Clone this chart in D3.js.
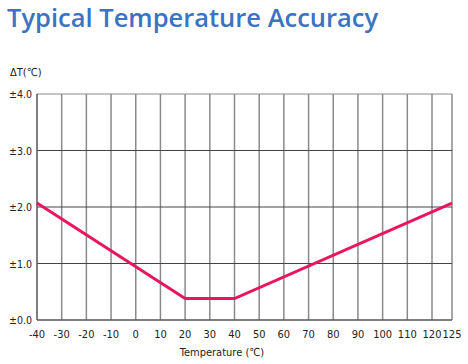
<!DOCTYPE html>
<html>
<head>
<meta charset="utf-8">
<script src="https://cdn.jsdelivr.net/npm/d3@7"></script>
<style>
body { margin:0; background:#fff; }
</style>
</head>
<body>
<svg id="svg1" width="468" height="364"></svg>
<script>
var temps = [-40, 20, 40, 125];
var accuracy = [2.07, 0.38, 0.38, 2.07];
var xTicks = [-40,-30,-20,-10,0,10,20,30,40,50,60,70,80,90,100,110,120,125];
var yTicks = [0, 1, 2, 3, 4];
var yLabels = ["±0.0","±1.0","±2.0","±3.0","±4.0"];

var svg = d3.select('#svg1');

// 125 sits closer to 120 than the rest in the original picture
var x = d3.scaleLinear().domain([-40,120,125]).range([37,432,452]);
var y = d3.scaleLinear().domain([0,4]).range([320,94]);

svg.append("text")
    .text("Typical Temperature Accuracy")
    .attr("x",7).attr("y",27)
    .style("font-family","'Open Sans', sans-serif")
    .style("font-size","25.5px")
    .style("font-weight","600")
    .style("fill","#3b73c2");

var g = svg.append("g");

g.selectAll("line.vgrid")
    .data(xTicks.slice(1))
    .enter()
    .append("line")
    .attr("class","vgrid")
    .attr("x1",function(d){return x(d);})
    .attr("x2",function(d){return x(d);})
    .attr("y1",y(4)).attr("y2",y(0))
    .style("stroke","#8a8a8a")
    .style("stroke-width","1.5px");

g.selectAll("line.hgrid")
    .data(yTicks.slice(1))
    .enter()
    .append("line")
    .attr("class","hgrid")
    .attr("x1",x(-40)).attr("x2",x(125))
    .attr("y1",function(d){return y(d);})
    .attr("y2",function(d){return y(d);})
    .style("stroke",function(d){return d == 4 ? "#8a8a8a" : "#444";})
    .style("stroke-width","1px");

// axes
g.append("line")
    .attr("x1",x(-40)).attr("x2",x(-40))
    .attr("y1",y(4)).attr("y2",y(0))
    .style("stroke","#555").style("stroke-width","1.5px");
g.append("line")
    .attr("x1",x(-40)).attr("x2",x(125))
    .attr("y1",y(0)).attr("y2",y(0))
    .style("stroke","#555").style("stroke-width","1.5px");

var line = d3.line()
    .x(function(d,i){return x(temps[i]);})
    .y(function(d){return y(d);});

g.append("path")
    .attr("d",line(accuracy))
    .style("fill","none")
    .style("stroke","#e8175d")
    .style("stroke-width","3px")
    .style("stroke-linejoin","miter");

var labelFont = "'Liberation Sans Narrow', 'DejaVu Sans Condensed', sans-serif";

g.selectAll("text.xt")
    .data(xTicks)
    .enter()
    .append("text")
    .attr("class","xt")
    .text(function(d){return d;})
    .attr("x",function(d){return x(d);})
    .attr("y",338)
    .style("text-anchor","middle")
    .style("font-family",labelFont)
    .style("font-size","11px")
    .style("fill","#222");

g.selectAll("text.yt")
    .data(yTicks)
    .enter()
    .append("text")
    .attr("class","yt")
    .text(function(d,i){return yLabels[i];})
    .attr("x",32)
    .attr("y",function(d){return y(d) + 4;})
    .style("text-anchor","end")
    .style("font-family",labelFont)
    .style("font-size","10.5px")
    .style("fill","#222");

g.append("text")
    .text("ΔT(℃)")
    .attr("x",10).attr("y",76)
    .style("font-family",labelFont)
    .style("font-size","11px")
    .style("fill","#222");

g.append("text")
    .text("Temperature (℃)")
    .attr("x",222).attr("y",356)
    .style("text-anchor","middle")
    .style("font-family",labelFont)
    .style("font-size","11px")
    .style("fill","#222");
</script>
</body>
</html>
